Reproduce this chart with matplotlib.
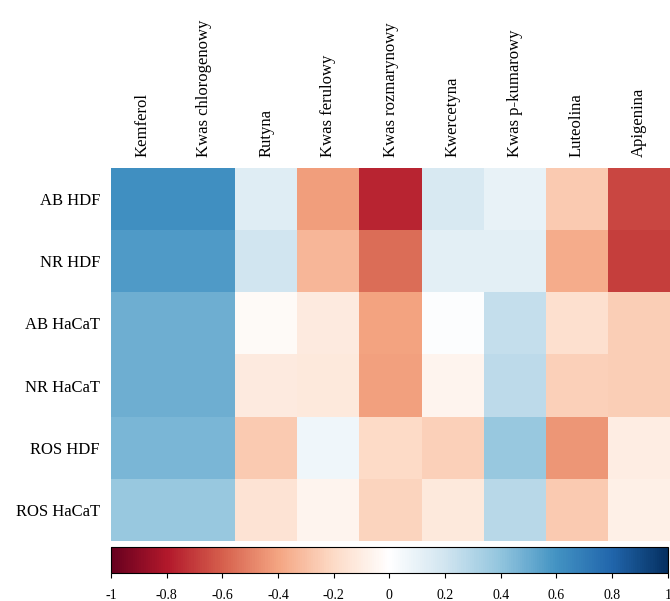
import numpy as np
import matplotlib
matplotlib.use('Agg')
import matplotlib.pyplot as plt
from matplotlib.colors import LinearSegmentedColormap

plt.rcParams['font.family'] = ['Liberation Serif', 'DejaVu Serif']
plt.rcParams['axes.unicode_minus'] = False

compounds = ['Kemferol', 'Kwas chlorogenowy', 'Rutyna', 'Kwas ferulowy',
             'Kwas rozmarynowy', 'Kwercetyna', 'Kwas p-kumarowy', 'Luteolina', 'Apigenina']
assays = ['AB HDF', 'NR HDF', 'AB HaCaT', 'NR HaCaT', 'ROS HDF', 'ROS HaCaT']

# korelacje, wiersze = assays, kolumny = compounds
ab_hdf = [0.61, 0.61, 0.14, -0.42, -0.76, 0.17, 0.10, -0.26, -0.67]
nr_hdf = [0.57, 0.57, 0.20, -0.33, -0.56, 0.12, 0.12, -0.37, -0.69]
ab_hacat = [0.49, 0.49, -0.03, -0.11, -0.40, 0.01, 0.24, -0.17, -0.25]
nr_hacat = [0.49, 0.49, -0.11, -0.12, -0.41, -0.06, 0.26, -0.24, -0.25]
ros_hdf = [0.46, 0.46, -0.26, 0.07, -0.20, -0.24, 0.38, -0.44, -0.10]
ros_hacat = [0.38, 0.38, -0.15, -0.06, -0.22, -0.12, 0.28, -0.26, -0.08]

data = np.array([ab_hdf, nr_hdf, ab_hacat, nr_hacat, ros_hdf, ros_hacat])

# paleta RdBu z bialym srodkiem (jak w corrplot)
pal = ['#67001F', '#B2182B', '#D6604D', '#F4A582', '#FDDBC7', '#FFFFFF',
       '#D1E5F0', '#92C5DE', '#4393C3', '#2166AC', '#053061']
cmap = LinearSegmentedColormap.from_list('rdbu_w', pal, N=256)

fig = plt.figure(figsize=(6.7, 6.01), dpi=100)
ax = fig.add_axes([0.1657, 0.0998, 0.8343, 0.6206])
im = ax.imshow(data, cmap=cmap, vmin=-1, vmax=1, aspect='auto', interpolation='nearest')

ax.xaxis.tick_top()
ax.set_xticks(range(len(compounds)))
ax.set_xticklabels(compounds, rotation=90, fontsize=12)
ax.set_yticks(range(len(assays)))
ax.set_yticklabels(assays, fontsize=12)
ax.tick_params(length=0, pad=8)
for s in ax.spines.values():
    s.set_visible(False)

cax = fig.add_axes([0.1657, 0.0466, 0.831, 0.0433])
cb = fig.colorbar(im, cax=cax, orientation='horizontal')
ticks = [-1, -0.8, -0.6, -0.4, -0.2, 0, 0.2, 0.4, 0.6, 0.8, 1]
cb.set_ticks(ticks)
cb.set_ticklabels(['-1', '-0.8', '-0.6', '-0.4', '-0.2', '0', '0.2', '0.4', '0.6', '0.8', '1'])
cb.ax.tick_params(labelsize=10, length=3.6, width=0.8, pad=8)
cb.outline.set_edgecolor('black')
cb.outline.set_linewidth(0.8)

fig.savefig('out.png', dpi=100)
